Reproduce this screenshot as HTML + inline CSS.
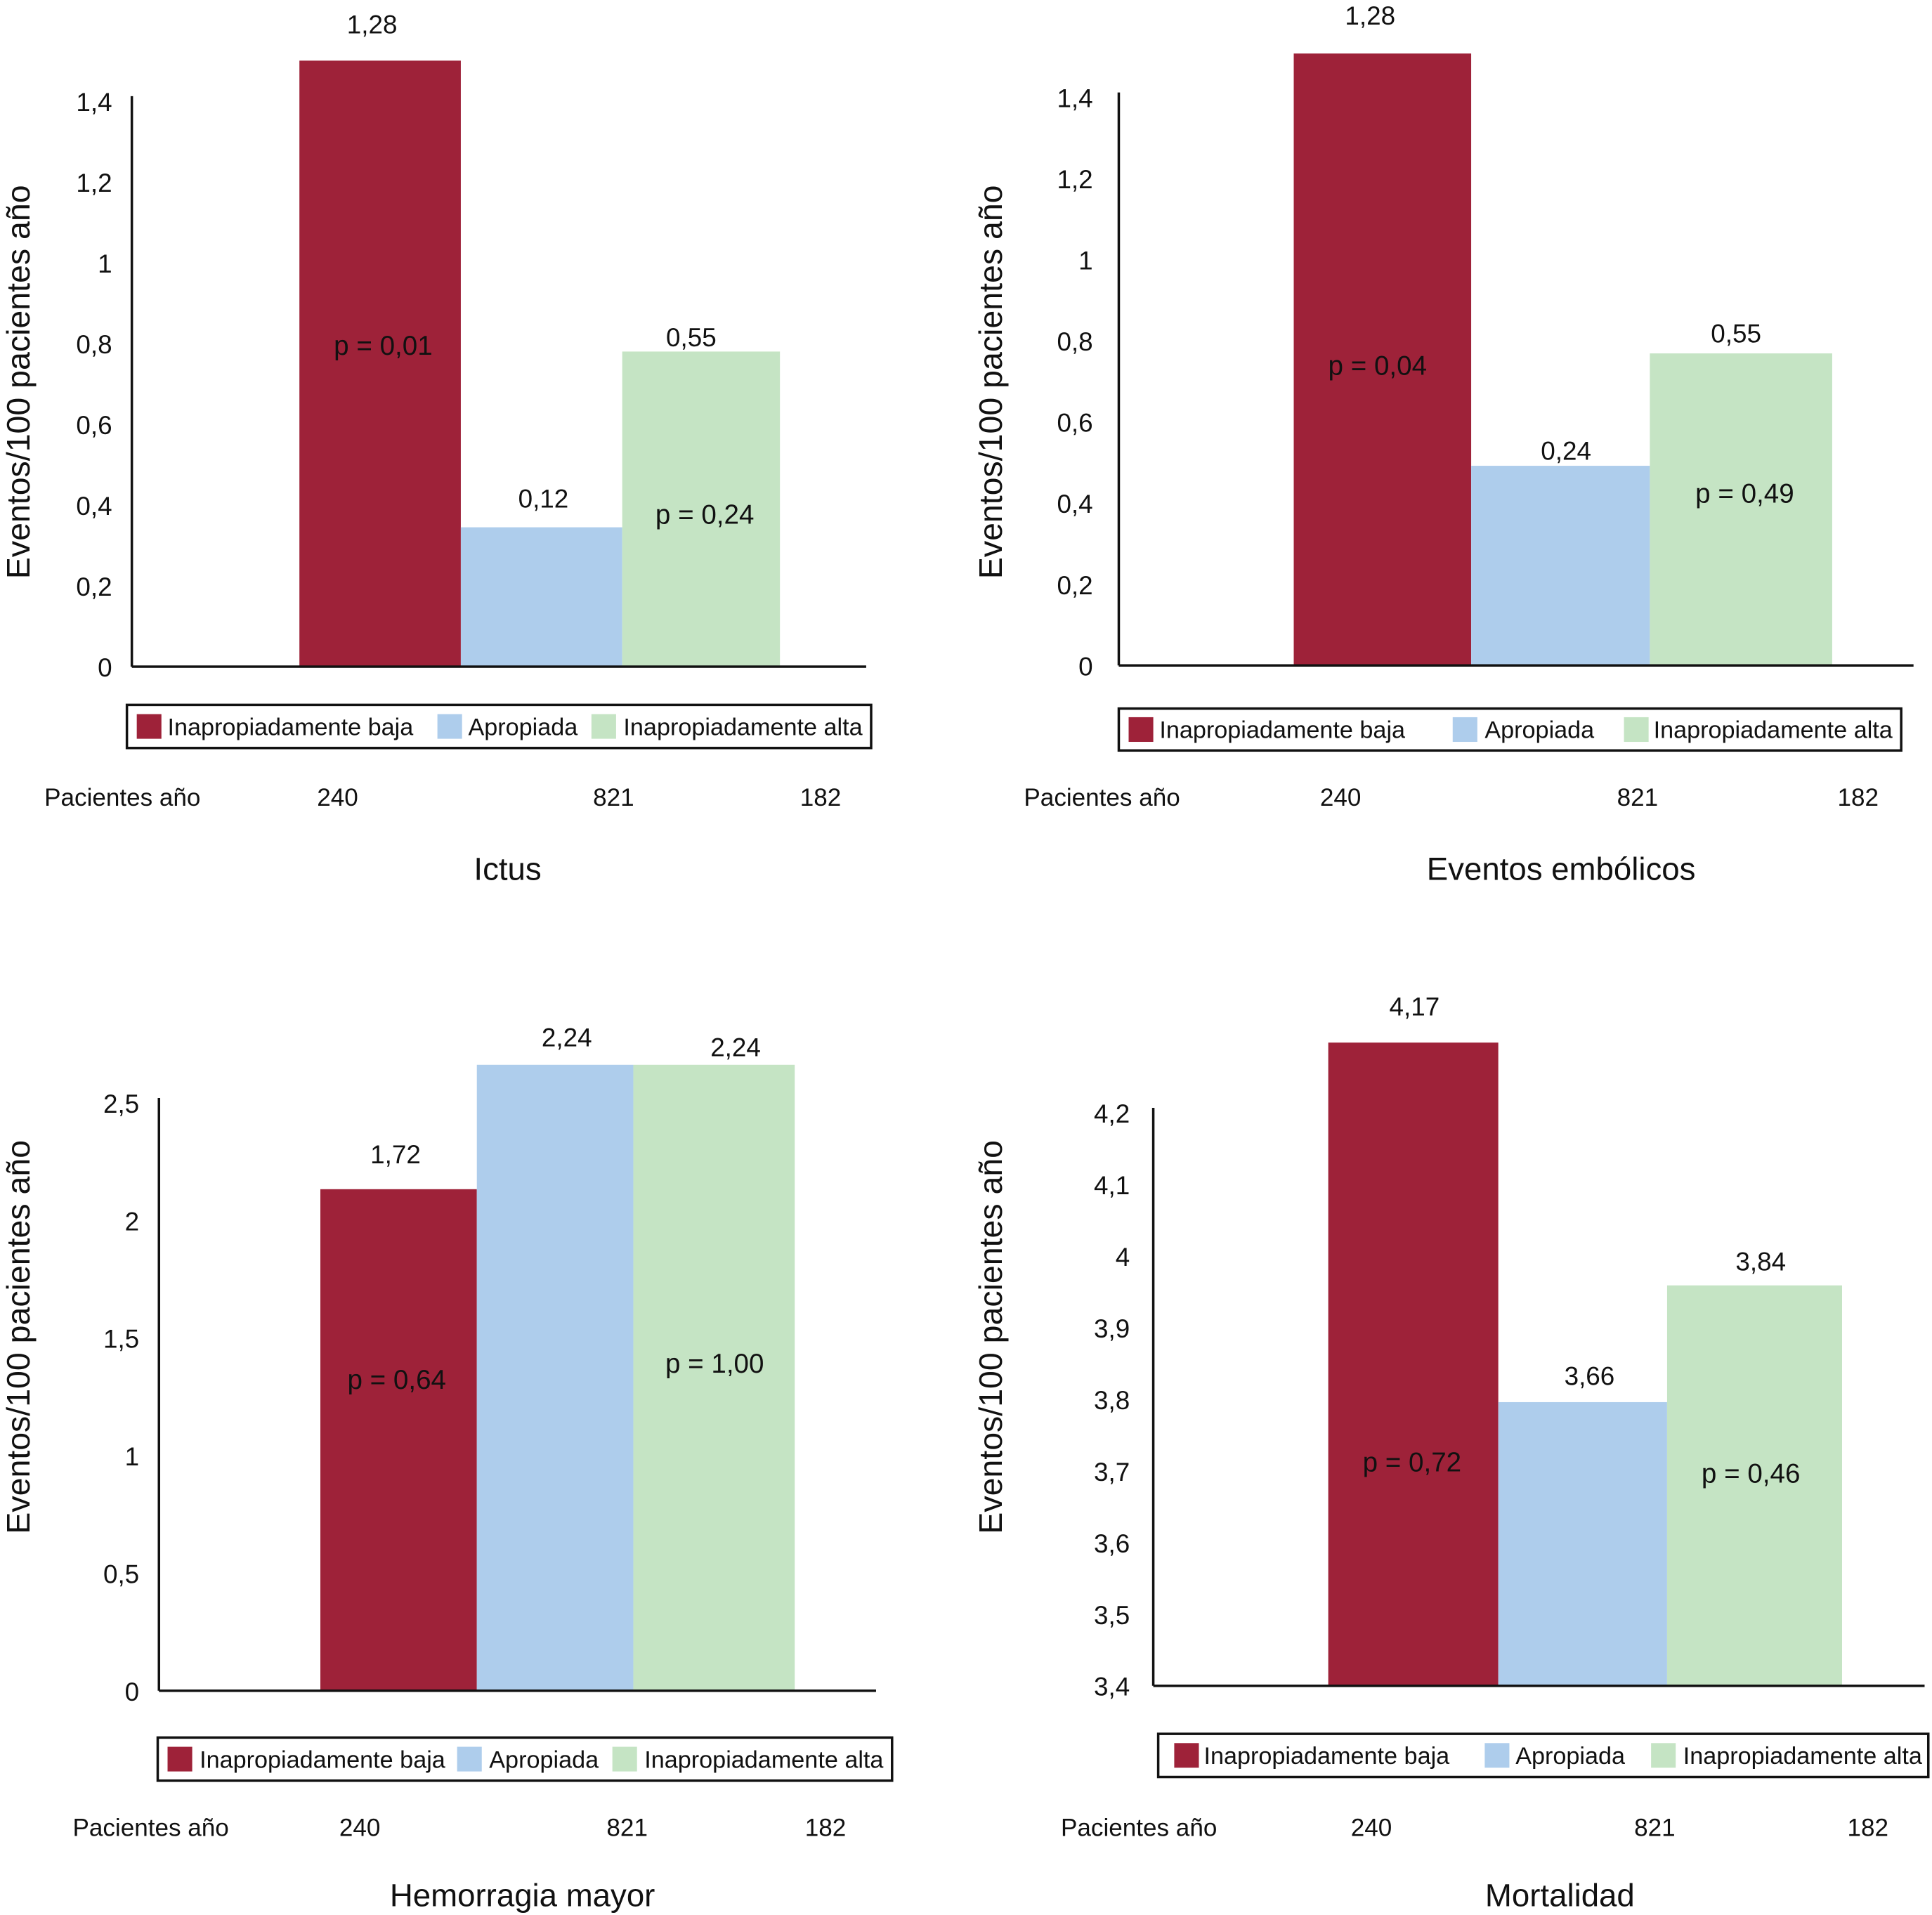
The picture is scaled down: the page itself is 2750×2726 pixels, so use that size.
<!DOCTYPE html>
<html><head><meta charset="utf-8">
<style>html,body{margin:0;padding:0;background:#fff}svg{display:block}text{font-family:"Liberation Sans",Arial,sans-serif;fill:#111}</style>
</head><body>
<svg id="chart" width="2750" height="2726" viewBox="0 0 1568 1554" preserveAspectRatio="none" xmlns="http://www.w3.org/2000/svg"></svg>
<script>
// Data
const categories = ["Inapropiadamente baja", "Apropiada", "Inapropiadamente alta"];
const patientYears = ["240", "821", "182"];
const titles = ["Ictus", "Eventos embólicos", "Hemorragia mayor", "Mortalidad"];
const barHeightsIctus = [1.5, 0.345, 0.78];
const barHeightsEmbolic = [1.508, 0.492, 0.769];
const barHeightsBleeding = [2.133, 2.662, 2.662];
const barHeightsMortality = [4.298, 3.796, 3.959];
const valueLabelsIctus = ["1,28", "0,12", "0,55"];
const valueLabelsEmbolic = ["1,28", "0,24", "0,55"];
const valueLabelsBleeding = ["1,72", "2,24", "2,24"];
const valueLabelsMortality = ["4,17", "3,66", "3,84"];
const pLabelsIctus = ["p = 0,01", "", "p = 0,24"];
const pLabelsEmbolic = ["p = 0,04", "", "p = 0,49"];
const pLabelsBleeding = ["p = 0,64", "", "p = 1,00"];
const pLabelsMortality = ["p = 0,72", "", "p = 0,46"];
const ticksIctus = [0, 0.2, 0.4, 0.6, 0.8, 1, 1.2, 1.4];
const ticksEmbolic = [0, 0.2, 0.4, 0.6, 0.8, 1, 1.2, 1.4];
const ticksBleeding = [0, 0.5, 1, 1.5, 2, 2.5];
const ticksMortality = [3.4, 3.5, 3.6, 3.7, 3.8, 3.9, 4, 4.1, 4.2];

const colors = ["#9e2239", "#aecdec", "#c5e4c4"];
const NS = "http://www.w3.org/2000/svg";
const svg = document.getElementById("chart");
function mk(tag, attrs, parent, txt) {
  const e = document.createElementNS(NS, tag);
  for (const k in attrs) e.setAttribute(k, attrs[k]);
  if (txt !== undefined) e.textContent = txt;
  (parent || svg).appendChild(e);
  return e;
}
function fmt(v){ return String(Math.round(v*10)/10).replace(".", ","); }

const panels = [
 {key:"ictus", bars:barHeightsIctus, vl:valueLabelsIctus, pl:pLabelsIctus, ticks:ticksIctus,
  ax:107, y0:541, yTop:82, vMin:0, vMax:1.4, xEnd:703, tickX:91, ytx:14, yty:320,
  barX:[243,374,505,633], vlPos:[[302,20],[441,405],[561,274]], plPos:[[311,280],null,[572,417]],
  leg:[103,572,604,35], legSw:[[111,136],[355,380],[480,506]],
  patY:647, patLX:36, patX:[274,498,666], title:[412,705]},
 {key:"embolic", bars:barHeightsEmbolic, vl:valueLabelsEmbolic, pl:pLabelsEmbolic, ticks:ticksEmbolic,
  ax:908, y0:540, yTop:79, vMin:0, vMax:1.4, xEnd:1553, tickX:887, ytx:803, yty:320,
  barX:[1050,1194,1339,1487], vlPos:[[1112,13],[1271,366],[1409,271]], plPos:[[1118,296],null,[1416,400]],
  leg:[908,575,635,34], legSw:[[916,941],[1179,1205],[1318,1342]],
  patY:647, patLX:831, patX:[1088,1329,1508], title:[1267,705]},
 {key:"bleeding", bars:barHeightsBleeding, vl:valueLabelsBleeding, pl:pLabelsBleeding, ticks:ticksBleeding,
  ax:129, y0:1372, yTop:895, vMin:0, vMax:2.5, xEnd:711, tickX:113, ytx:14, yty:1095,
  barX:[260,387,514,645], vlPos:[[321,937],[460,842],[597,850]], plPos:[[322,1119],null,[580,1106]],
  leg:[128,1410,596,35], legSw:[[136,162],[371,397],[497,523]],
  patY:1483, patLX:59, patX:[292,509,670], title:[424,1538]},
 {key:"mortality", bars:barHeightsMortality, vl:valueLabelsMortality, pl:pLabelsMortality, ticks:ticksMortality,
  ax:936, y0:1368, yTop:903, vMin:3.4, vMax:4.2, xEnd:1562, tickX:917, ytx:803, yty:1095,
  barX:[1078,1216,1353,1495], vlPos:[[1148,817],[1290,1117],[1429,1024]], plPos:[[1146,1186],null,[1421,1195]],
  leg:[940,1407,625,35], legSw:[[953,977],[1205,1230],[1340,1366]],
  patY:1483, patLX:861, patX:[1113,1343,1516], title:[1266,1538]}
];

panels.forEach(p => {
  const g = mk("g", {});
  
  
  const y = v => p.y0 - (v - p.vMin) / (p.vMax - p.vMin) * (p.y0 - p.yTop);
  p.bars.forEach((v, i) => {
    const r = mk("rect", {x:p.barX[i], y:y(v), width:p.barX[i+1]-p.barX[i], height:p.y0-y(v), fill:colors[i]}, g);
    
    
    const t = mk("text", {x:p.vlPos[i][0], y:p.vlPos[i][1]+7, "text-anchor":"middle", "font-size":21}, g, p.vl[i]);
    
    
    if (p.pl[i]) {
      const pt = mk("text", {x:p.plPos[i][0], y:p.plPos[i][1]+8, "text-anchor":"middle", "font-size":22}, g, p.pl[i]);
      
      
    }
  });
  const ya = mk("line", {x1:p.ax, y1:p.yTop-4, x2:p.ax, y2:p.y0, stroke:"#111", "stroke-width":2}, g);
  
  
  const xa = mk("line", {x1:p.ax, y1:p.y0, x2:p.xEnd, y2:p.y0, stroke:"#111", "stroke-width":2}, g);
  
  
  p.ticks.forEach(v => {
    const t = mk("text", {x:p.tickX, y:y(v)+8, "text-anchor":"end", "font-size":21}, g, fmt(v));
    
    
  });
  const yt = mk("text", {x:p.ytx+20, y:p.yty, "text-anchor":"middle", "font-size":26.5, transform:"rotate(-90 "+(p.ytx+10)+" "+p.yty+")"}, g, "Eventos/100 pacientes año");
  
  
  const lg = mk("g", {}, g);
  
  
  mk("rect", {x:p.leg[0], y:p.leg[1], width:p.leg[2], height:p.leg[3], fill:"none", stroke:"#111", "stroke-width":2}, lg);
  categories.forEach((c, i) => {
    const cy = p.leg[1] + p.leg[3]/2;
    const s = mk("rect", {x:p.legSw[i][0], y:cy-10, width:20, height:20, fill:colors[i]}, lg);
    
    
    const t = mk("text", {x:p.legSw[i][1], y:cy+7, "font-size":19.5}, lg, c);
    
    
  });
  const pl = mk("text", {x:p.patLX, y:p.patY+7, "font-size":20}, g, "Pacientes año");
  
  
  patientYears.forEach((v, i) => {
    const t = mk("text", {x:p.patX[i], y:p.patY+7, "text-anchor":"middle", "font-size":20}, g, v);
    
    
  });
  const ti = mk("text", {x:p.title[0], y:p.title[1]+9, "text-anchor":"middle", "font-size":26}, g, titles[panels.indexOf(p)]);
  
  
});
</script>
</body></html>
